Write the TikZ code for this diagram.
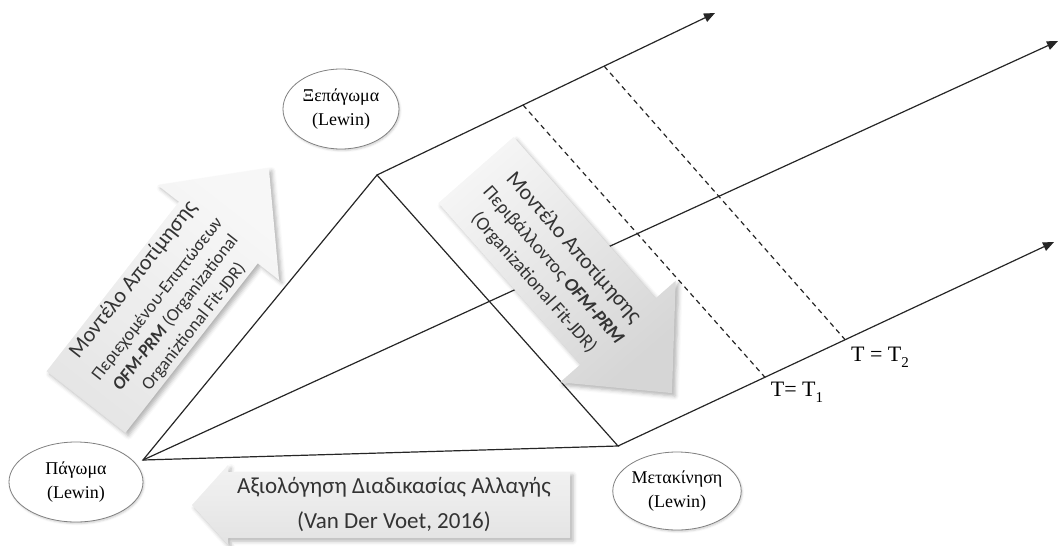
\documentclass[tikz,border=0pt]{standalone}
\usepackage{fontspec}
\setmainfont{Liberation Serif}
\newfontfamily\calibri{Carlito}
\usetikzlibrary{arrows.meta,calc,shapes.geometric,shadows.blur}

\newcommand\lowidx[1]{\raisebox{-.28em}{\fontsize{15}{15}\selectfont #1}}

\begin{document}
\begin{tikzpicture}[x=1pt,y=-1pt,
  flow/.style={line width=1.2pt, draw=black!85},
  tipped/.style={flow, -{Triangle[length=11pt,width=9pt]}},
  guide/.style={line width=1.2pt, draw=black!85, dash pattern=on 5pt off 4pt},
  stage/.style={ellipse, draw=black!50, line width=0.8pt, fill=white,
    inner sep=0pt, align=center, font=\fontsize{18}{24}\selectfont,
    blur shadow={shadow xshift=1pt, shadow yshift=-1.5pt, shadow opacity=20, shadow blur radius=2pt}},
  bigarrow/.style={draw=none,
    blur shadow={shadow xshift=3pt, shadow yshift=-3pt, shadow opacity=30, shadow blur radius=4pt}},
  arrowtext/.style={font=\calibri\fontsize{19}{26}\selectfont, align=center, text=black!80},
  timelabel/.style={font=\fontsize{22}{22}\selectfont, inner sep=1pt},
]
\useasboundingbox (0,0) rectangle (1060,546);

% vertices of the change triangle and the ends of the time lines
\coordinate (P)  at (143,460);
\coordinate (X)  at (377,175);
\coordinate (M)  at (618,446);
\coordinate (E1) at (715,13);
\coordinate (E2) at (1058,41);
\coordinate (E3) at (1054,242);

% triangle and time lines
\draw[flow] (P) -- (X) -- (M) -- cycle;
\draw[tipped] (X) -- (E1);
\draw[tipped] (P) -- (E2);
\draw[tipped] (M) -- (E3);

% time markers T1 and T2
\coordinate (t1a) at ($(X)!0.432!(E1)$);
\coordinate (t1b) at ($(M)!0.337!(E3)$);
\coordinate (t2a) at ($(X)!0.672!(E1)$);
\coordinate (t2b) at ($(M)!0.521!(E3)$);
\draw[guide] (t1a) -- (t1b);
\draw[guide] (t2a) -- (t2b);
\node[timelabel] (lt1) at (797,392) {T= T\lowidx{1}};
\node[timelabel] (lt2) at (880,357) {T = T\lowidx{2}};

% left block arrow (content model)
\begin{scope}[shift={(86,402)}, rotate=52]
  \path[bigarrow, top color=gray!6, bottom color=gray!20, shading angle=-38]
    (0,-50) -- (215,-50) -- (215,-77) -- (297,0) -- (215,77) -- (215,50) -- (0,50) -- cycle;
\end{scope}
\node[arrowtext, font=\calibri\fontsize{18}{23}\selectfont, rotate=52] (contentmodel) at (163,303)
  {{\fontsize{22}{22}\selectfont Μοντέλο Αποτίμησης}\\[7pt]
   Περιεχομένου-Επιπτώσεων\\
   \textbf{\textit{OFM-PRM}} (Organizational\\
   Organiztional Fit-JDR)};

% right block arrow (environment model)
\begin{scope}[shift={(476,170)}, rotate=-48.7]
  \path[bigarrow, top color=gray!8, bottom color=gray!32, shading angle=41]
    (0,-50) -- (215,-50) -- (215,-77) -- (297,0) -- (215,77) -- (215,50) -- (0,50) -- cycle;
\end{scope}
\node[arrowtext, rotate=-48.7] (envmodel) at (554,265)
  {{\fontsize{22}{22}\selectfont Μοντέλο Αποτίμησης}\\
   Περιβάλλοντος \textbf{\textit{OFM-PRM}}\\
   (Organizational Fit-JDR)};

% bottom block arrow (evaluation of the change process)
\path[bigarrow, top color=gray!10, bottom color=gray!22]
  (570,472) -- (228,472) -- (228,465) -- (192,505) -- (228,545) -- (228,538) -- (570,538) -- cycle;
\node[arrowtext, font=\calibri\fontsize{23}{35}\selectfont] (evaluation) at (394,504)
  {Αξιολόγηση Διαδικασίας Αλλαγής\\(Van Der Voet, 2016)};

% Lewin stages
\node[stage, minimum width=116pt, minimum height=80pt] (unfreeze) at (341,109) {Ξεπάγωμα\\(Lewin)};
\node[stage, minimum width=134pt, minimum height=80pt] (freeze) at (76,482) {Πάγωμα\\(Lewin)};
\node[stage, minimum width=122pt, minimum height=78pt] (move) at (677,491) {Μετακίνηση\\(Lewin)};
\end{tikzpicture}
\end{document}
